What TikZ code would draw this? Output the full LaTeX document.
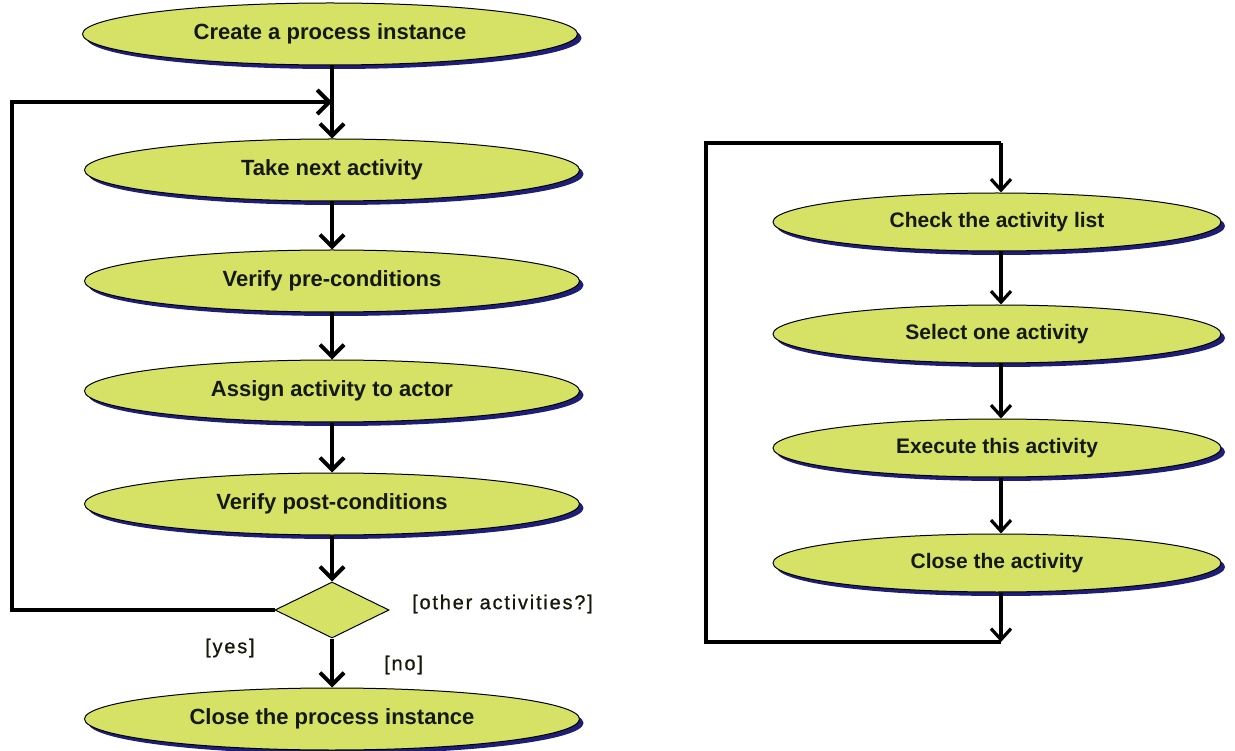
\documentclass[tikz,border=0pt]{standalone}
\usepackage{fontspec}
\setmainfont{Liberation Sans}
\usetikzlibrary{arrows.meta,shapes.geometric,shadows}
\definecolor{lime}{RGB}{214,226,102}
\definecolor{navyshadow}{RGB}{30,30,120}
\definecolor{ink}{RGB}{20,25,10}
\tikzset{
  act/.style={ellipse, draw=black, line width=1pt, fill=lime, minimum width=495pt, minimum height=62pt, text=ink,
    font=\fontsize{22}{24}\selectfont\bfseries, drop shadow={shadow xshift=4pt, shadow yshift=-4pt, fill=navyshadow, opacity=1}},
  ract/.style={act, minimum width=448pt, minimum height=58pt, font=\fontsize{21}{23}\selectfont\bfseries},
  dec/.style={diamond, draw=black, line width=1pt, fill=lime, minimum width=114pt, minimum height=56pt, aspect=2, inner sep=0pt},
  flow/.style={line width=4pt, -{Straight Barb[length=12pt,width=24pt,line width=4pt]}},
  rflow/.style={line width=3.2pt, -{Straight Barb[length=11pt,width=20pt,line width=3.2pt]}},
  lbl/.style={font=\fontsize{20}{22}\selectfont\addfontfeature{LetterSpace=9,FakeBold=0.8}, text=ink, inner sep=0pt}
}
\begin{document}
\begin{tikzpicture}[x=1pt,y=-1pt]
\useasboundingbox (0,0) rectangle (1235,751);
% left flow
\node[act] (create) at (330,34) {Create a process instance};
\node[act] (take) at (332,170) {Take next activity};
\node[act] (pre) at (332,281) {Verify pre-conditions};
\node[act] (assign) at (332,391) {Assign activity to actor};
\node[act] (post) at (332,504) {Verify post-conditions};
\node[dec] (dec) at (332,610) {};
\node[act] (closep) at (332,719) {Close the process instance};
\coordinate (join) at (332,102);
\coordinate (lb) at (12,610);
\coordinate (lt) at (12,102);
\draw[line width=4pt] (create.south -| join) -- (join);
\draw[flow] (join) -- (take.north);
\draw[flow] (take) -- (pre);
\draw[flow] (pre) -- (assign);
\draw[flow] (assign) -- (post);
\draw[flow] (post) -- (dec);
\draw[flow] (dec) -- (closep);
\draw[flow] (dec.west) -- (lb) -- (lt) -- (join);
\node[lbl, anchor=west] (other) at (412,604) {[other activities?]};
\node[lbl, anchor=west] (no) at (384,665) {[no]};
\node[lbl, anchor=west] (yes) at (205,648) {[yes]};
% right flow
\node[ract] (check) at (997,222) {Check the activity list};
\node[ract] (select) at (997,334) {Select one activity};
\node[ract] (exec) at (997,448) {Execute this activity};
\node[ract] (closea) at (997,563) {Close the activity};
\coordinate (rb) at (1001,642);
\coordinate (rbl) at (706,642);
\coordinate (rtl) at (706,143);
\coordinate (rt) at (1001,143);
\draw[rflow] (rt) -- (check.north -| rt);
\draw[rflow] (check.south -| rt) -- (select.north -| rt);
\draw[rflow] (select.south -| rt) -- (exec.north -| rt);
\draw[rflow] (exec.south -| rt) -- (closea.north -| rt);
\draw[rflow] (closea.south -| rt) -- (rb);
\draw[line width=3.2pt] (rb) -- (rbl) -- (rtl) -- (rt);
\end{tikzpicture}
\end{document}
